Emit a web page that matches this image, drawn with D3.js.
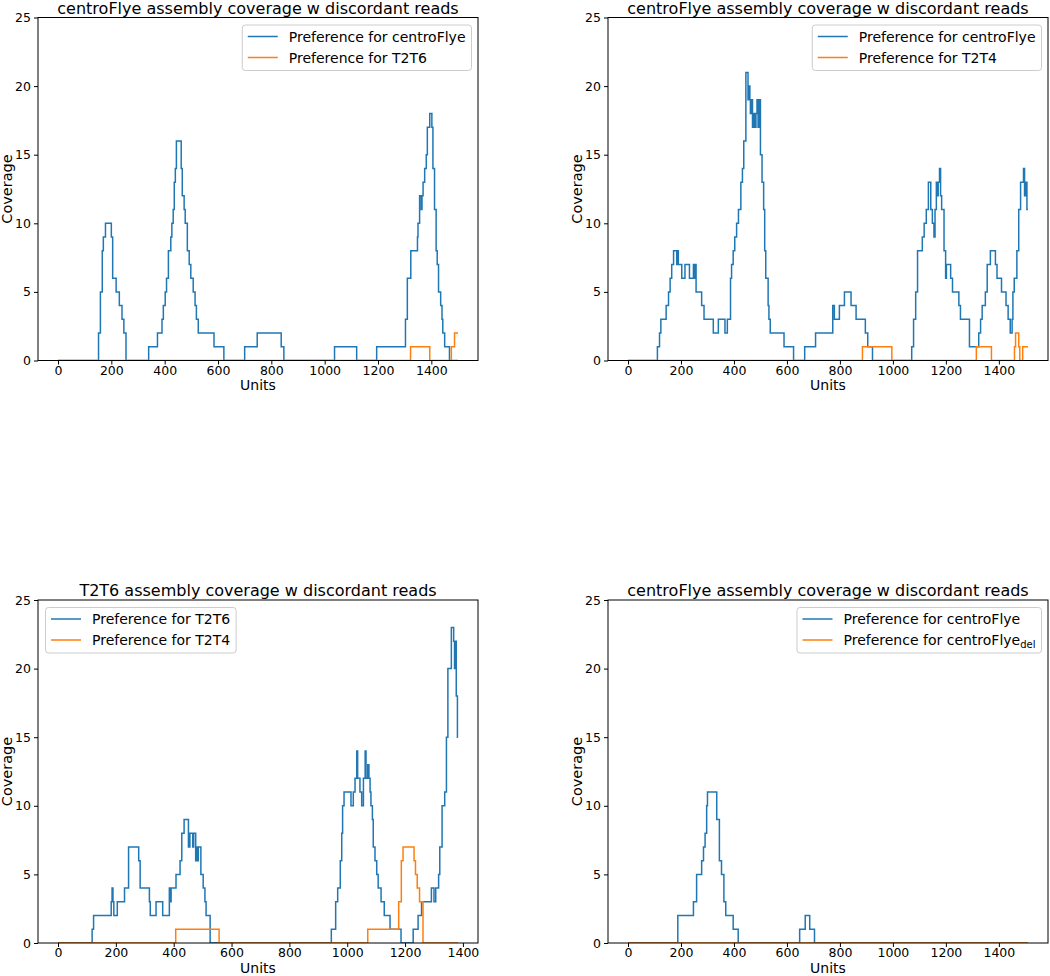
<!DOCTYPE html>
<html>
<head>
<meta charset="utf-8">
<script src="https://cdn.jsdelivr.net/npm/d3@7"></script>
<style>
  html, body { margin: 0; padding: 0; background: #fff; }
  svg { display: block; }
  text { font-family: "DejaVu Sans", sans-serif; fill: #000; }
</style>
</head>
<body>
<svg id="chart" width="1050" height="976"></svg>
<script>
// ---------- DATA (step breakpoints: [unit, coverage]) ----------
const xTicks = [0, 200, 400, 600, 800, 1000, 1200, 1400];
const yTicks = [0, 5, 10, 15, 20, 25];

const titles = [
  "centroFlye assembly coverage w discordant reads",
  "centroFlye assembly coverage w discordant reads",
  "T2T6 assembly coverage w discordant reads",
  "centroFlye assembly coverage w discordant reads"
];

const legendBlue = ["Preference for centroFlye", "Preference for centroFlye", "Preference for T2T6", "Preference for centroFlye"];
const legendOrange = ["Preference for T2T6", "Preference for T2T4", "Preference for T2T4", "Preference for centroFlye"];
const legendOrangeSub = ["", "", "", "del"];
const legendPos = ["right", "right", "left", "right"];

const p1Blue = [[0,0],[152,2],[159,5],[166,8],[170,9],[178,10],[200,9],[205,6],[218,5],[230,4],[240,3],[247,2],[255,0],
  [340,1],[373,2],[390,3],[395,4],[402,5],[407,6],[414,8],[423,9],[427,10],[432,11],[436,13],[440,14],[444,16],[462,14],[466,12],[473,11],[477,10],[485,8],[492,7],[498,6],[507,5],[514,4],[519,3],[526,2],[585,1],[622,0],
  [700,1],[747,2],[837,1],[847,0],
  [1037,1],[1120,0],
  [1195,1],[1303,3],[1310,6],[1323,8],[1348,9],[1350,10],[1356,12],[1362,11],[1365,12],[1369,13],[1375,14],[1381,15],[1385,17],[1394,18],[1402,17],[1406,14],[1412,11],[1418,8],[1422,7],[1427,5],[1435,4],[1440,3],[1443,2],[1450,1],[1468,0],[1500,0]];
const p1Orange = [[0,0],[1322,1],[1394,0],[1475,1],[1487,2],[1500,2]];

const p2Blue = [[0,0],[111,1],[119,2],[124,3],[144,4],[153,5],[159,6],[165,7],[172,8],[184,7],[187,8],[190,7],[197,7],[203,6],[215,7],[232,6],[247,7],[250,6],[253,7],[257,5],[278,4],[287,3],[322,2],[341,3],[366,2],[375,3],[387,6],[391,7],[397,8],[403,9],[410,10],[417,11],[426,13],[432,14],[437,16],[445,21],[453,19],[457,20],[460,19],[462,18],[466,19],[470,17],[474,18],[479,17],[483,18],[487,19],[491,17],[495,19],[500,15],[506,13],[512,11],[516,8],[520,6],[529,4],[532,3],[537,2],[589,1],[625,0],
  [667,1],[708,2],[773,4],[779,3],[798,4],[817,5],[842,4],[861,3],[896,2],[905,1],[923,0],
  [1071,1],[1078,3],[1086,5],[1093,8],[1111,9],[1118,10],[1126,11],[1134,13],[1143,11],[1149,10],[1155,9],[1159,11],[1164,13],[1168,12],[1171,13],[1176,14],[1180,12],[1184,11],[1193,8],[1199,6],[1202,7],[1218,6],[1225,5],[1249,4],[1255,3],[1289,1],[1324,2],[1331,3],[1337,4],[1349,5],[1356,7],[1368,8],[1387,7],[1393,6],[1410,5],[1427,4],[1435,3],[1443,2],[1450,3],[1453,5],[1458,6],[1468,8],[1475,11],[1482,13],[1493,14],[1497,12],[1502,13],[1506,11],[1510,11]];
const p2Orange = [[0,0],[885,1],[996,0],[1315,1],[1372,0],[1459,1],[1463,2],[1475,1],[1479,0],[1490,1],[1510,1]];

const p3Blue = [[0,0],[118,1],[123,2],[184,3],[187,4],[190,3],[193,2],[205,3],[230,4],[244,7],[279,6],[284,4],[316,3],[319,2],[339,3],[362,2],[385,4],[388,3],[391,4],[408,5],[422,6],[428,8],[436,9],[451,7],[456,8],[466,7],[469,8],[476,6],[479,7],[482,6],[485,7],[494,5],[502,4],[508,3],[512,2],[526,0],
  [945,1],[960,3],[967,4],[976,6],[981,8],[984,10],[989,11],[1013,10],[1021,11],[1027,12],[1033,14],[1036,12],[1044,11],[1050,10],[1056,12],[1062,14],[1065,12],[1071,13],[1075,12],[1079,11],[1082,10],[1087,9],[1090,7],[1096,6],[1102,5],[1107,4],[1117,3],[1128,2],[1148,1],[1186,0],
  [1228,1],[1245,2],[1257,3],[1291,4],[1300,3],[1306,4],[1316,5],[1320,7],[1328,10],[1337,11],[1343,15],[1348,20],[1360,23],[1368,22],[1371,20],[1373,22],[1377,18],[1381,15],[1383,15]];
const p3Orange = [[0,0],[407,1],[557,0],[1071,1],[1178,3],[1187,6],[1193,7],[1231,6],[1236,5],[1242,4],[1250,3],[1262,0],[1383,0]];

const p4Blue = [[0,0],[188,2],[247,3],[259,5],[278,6],[285,7],[291,8],[297,10],[300,11],[335,9],[345,6],[353,5],[362,3],[369,2],[397,1],[416,0],
  [648,1],[669,2],[686,1],[704,0],[1510,0]];
const p4Orange = [[0,0],[1510,0]];

const blueSeries = [p1Blue, p2Blue, p3Blue, p4Blue];
const orangeSeries = [p1Orange, p2Orange, p3Orange, p4Orange];

// ---------- LAYOUT ----------
const panels = [
  {left: 38,  top: 17.5},
  {left: 608, top: 17.5},
  {left: 38,  top: 600},
  {left: 608, top: 600}
];
const W = 440, H = 343;
const BLUE = "#1f77b4", ORANGE = "#ff7f0e";

const svg = d3.select("#chart");

panels.forEach((p, i) => {
  const blue = blueSeries[i], orange = orangeSeries[i];
  const xmax = d3.max(blue.concat(orange), d => d[0]);
  const xmin = 0;
  const pad = (xmax - xmin) * 0.05;
  const x = d3.scaleLinear().domain([xmin - pad, xmax + pad]).range([0, W]);
  const y = d3.scaleLinear().domain([0, 25]).range([H, 0]);

  const g = svg.append("g").attr("transform", `translate(${p.left},${p.top})`);

  const clipId = "clip" + i;
  g.append("clipPath").attr("id", clipId)
    .append("rect").attr("x", 0).attr("y", 0).attr("width", W).attr("height", H);

  const line = d3.line().x(d => x(d[0])).y(d => y(d[1])).curve(d3.curveStepAfter);

  const plot = g.append("g").attr("clip-path", `url(#${clipId})`);
  plot.append("path").datum(blue).attr("d", line)
    .attr("fill", "none").attr("stroke", BLUE).attr("stroke-width", 1.5).attr("stroke-linejoin", "miter");
  plot.append("path").datum(orange).attr("d", line)
    .attr("fill", "none").attr("stroke", ORANGE).attr("stroke-width", 1.5).attr("stroke-linejoin", "miter");

  // axes
  const fmt = d3.format("d");
  const xAxis = d3.axisBottom(x).tickValues(xTicks).tickFormat(fmt).tickSize(4).tickPadding(1.5);
  const yAxis = d3.axisLeft(y).tickValues(yTicks).tickFormat(fmt).tickSize(4).tickPadding(3);
  const gx = g.append("g").attr("transform", `translate(0,${H})`).call(xAxis);
  const gy = g.append("g").call(yAxis);
  [gx, gy].forEach(a => {
    a.select(".domain").remove();
    a.selectAll("line").attr("stroke", "#000").attr("stroke-width", 1);
    a.selectAll("text").attr("font-size", 12.5).attr("font-family", "DejaVu Sans").attr("fill", "#000");
  });

  // frame
  g.append("rect").attr("x", 0).attr("y", 0).attr("width", W).attr("height", H)
    .attr("fill", "none").attr("stroke", "#000").attr("stroke-width", 1);

  // title and labels
  g.append("text").attr("x", W / 2).attr("y", -4).attr("text-anchor", "middle")
    .attr("font-size", 16).text(titles[i]);
  g.append("text").attr("x", W / 2).attr("y", H + 29.5).attr("text-anchor", "middle")
    .attr("font-size", 14).text("Units");
  g.append("text").attr("transform", `translate(${-26},${H / 2}) rotate(-90)`)
    .attr("text-anchor", "middle").attr("font-size", 14.5).text("Coverage");

  // legend
  const lg = g.append("g");
  const box = lg.append("rect").attr("rx", 3).attr("ry", 3)
    .attr("fill", "#fff").attr("fill-opacity", 0.8)
    .attr("stroke", "#cccccc").attr("stroke-width", 1);
  const rows = [
    {label: legendBlue[i], sub: "", color: BLUE, cy: 11.5},
    {label: legendOrange[i], sub: legendOrangeSub[i], color: ORANGE, cy: 32.5}
  ];
  let maxW = 0;
  rows.forEach(r => {
    lg.append("line").attr("x1", 5.5).attr("x2", 35.5).attr("y1", r.cy).attr("y2", r.cy)
      .attr("stroke", r.color).attr("stroke-width", 1.5);
    const t = lg.append("text").attr("x", 46.5).attr("y", r.cy + 5).attr("font-size", 14).text(r.label);
    if (r.sub) {
      t.append("tspan").attr("font-size", 10).attr("dy", 3).text(r.sub);
    }
    maxW = Math.max(maxW, t.node().getComputedTextLength());
  });
  const bw = 46.5 + maxW + 6, bh = 45.5;
  box.attr("width", bw).attr("height", bh);
  const lx = legendPos[i] === "right" ? W - 6.5 - bw : 7.5;
  lg.attr("transform", `translate(${lx},${7.5})`);
});
</script>
</body>
</html>
